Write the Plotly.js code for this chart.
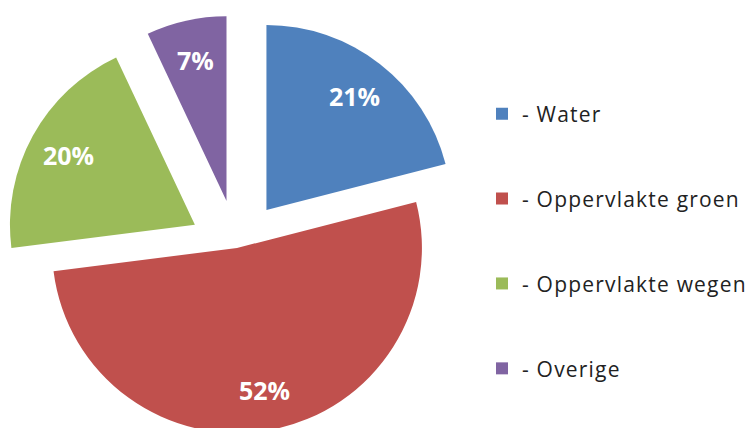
<!DOCTYPE html>
<html>
<head>
<meta charset="utf-8">
<script src="https://cdn.plot.ly/plotly-3.0.1.min.js"></script>
<style>
  html, body { margin: 0; padding: 0; background: #ffffff; overflow: hidden; }
  #wrap { width: 756px; height: 428px; overflow: hidden; position: relative; }
  #chart { width: 756px; height: 481px; }
  .legendtext { letter-spacing: 1.2px; }
</style>
</head>
<body>
<div id="wrap"><div id="chart"></div></div>
<script>
// Data
var categories = ["Water", "Oppervlakte groen", "Oppervlakte wegen", "Overige"];
var shares = [21, 52, 20, 7];
var sliceColors = ["#4F81BD", "#C0504D", "#9BBB59", "#8064A2"];
var pulls = [0.26, 0, 0.26, 0.26];

var legendLabels = categories.map(function (c) { return "- " + c + "<br> <br> "; });

// Geometry of the pie (same as what Plotly derives from the domain)
var W = 756, H = 481;
var dom = { x: [4 / W, 470 / W], y: [0, 1 - 15 / H] };
var boxW = W * (dom.x[1] - dom.x[0]), boxH = H * (dom.y[1] - dom.y[0]);
var maxPull = Math.max.apply(null, pulls);
var R = Math.min(boxW, boxH) / (2 + 2 * maxPull);
var cxPx = W * (dom.x[0] + dom.x[1]) / 2;
var cyPx = H * (1 - (dom.y[0] + dom.y[1]) / 2);
var labelRadius = 0.78;

var total = shares.reduce(function (a, b) { return a + b; }, 0);
var annotations = [];
var cum = 0;
shares.forEach(function (v, i) {
  var mid = (cum + v / 2) / total * 2 * Math.PI;
  cum += v;
  var d = (pulls[i] + labelRadius) * R;
  var px = cxPx + d * Math.sin(mid);
  var py = cyPx - d * Math.cos(mid);
  annotations.push({
    xref: "paper", yref: "paper",
    x: px / W, y: 1 - py / H,
    xanchor: "center", yanchor: "middle",
    showarrow: false,
    text: Math.round(v / total * 100) + "%",
    font: { family: "Open Sans", size: 25, color: "#ffffff", weight: "bold" }
  });
});

var trace = {
  type: "pie",
  labels: legendLabels,
  values: shares,
  sort: false,
  direction: "clockwise",
  rotation: 0,
  pull: pulls,
  marker: { colors: sliceColors, line: { width: 0 } },
  textinfo: "none",
  hoverinfo: "none",
  domain: dom
};

var layout = {
  width: W,
  height: H,
  margin: { l: 0, r: 0, t: 0, b: 0 },
  paper_bgcolor: "#ffffff",
  showlegend: true,
  annotations: annotations,
  legend: {
    x: 482 / W,
    xanchor: "left",
    y: 1 - 93.5 / H,
    yanchor: "top",
    valign: "top",
    font: { family: "Open Sans", size: 21, color: "#222222" },
    bgcolor: "rgba(0,0,0,0)",
    borderwidth: 0
  }
};

Plotly.newPlot("chart", [trace], layout, { displayModeBar: false, staticPlot: true });
</script>
</body>
</html>
